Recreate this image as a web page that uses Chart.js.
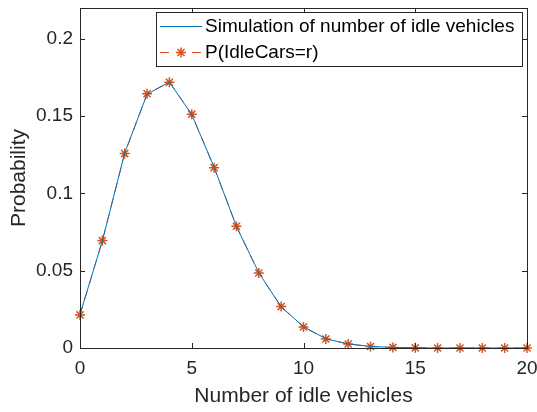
<!DOCTYPE html>
<html><head><meta charset="utf-8">
<script src="https://cdn.jsdelivr.net/npm/chart.js@4/dist/chart.umd.min.js"></script>
<style>html,body{margin:0;padding:0;background:#fff}#wrap{width:537px;height:412px}</style>
</head><body><div id="wrap"><canvas id="c" width="537" height="412"></canvas></div>
<script>
const xValues = [0,1,2,3,4,5,6,7,8,9,10,11,12,13,14,15,16,17,18,19,20];
const simValues = [0.0218,0.0692,0.1262,0.1642,0.1721,0.1510,0.1170,0.0786,0.0487,0.0266,0.0138,0.0060,0.0026,0.0010,0.0004,0.0001,0,0,0,0,0];
const probValues = [0.0214,0.0695,0.1258,0.1645,0.1719,0.1513,0.1167,0.0788,0.0485,0.0268,0.0136,0.0058,0.0026,0.0010,0.0004,0.0001,0.00003,0.00001,0,0,0];
const yTicks = [0,0.05,0.1,0.15,0.2];
const xTicks = [0,5,10,15,20];
const legendLabels = ['Simulation of number of idle vehicles','P(IdleCars=r)'];

const AX = '#262626';
const FONT = '"Liberation Sans", Arial, sans-serif';

const boxPlugin = {
  id:'boxPlugin',
  afterDatasetsDraw(chart){
    const {ctx, chartArea:a, scales:{x,y}} = chart;
    ctx.save();
    ctx.strokeStyle = AX; ctx.lineWidth = 1;
    ctx.beginPath();
    ctx.rect(Math.round(a.left)+0.5, Math.round(a.top)+0.5, Math.round(a.right-a.left), Math.round(a.bottom-a.top));
    ctx.stroke();
    ctx.beginPath();
    const tl = 5;
    xTicks.forEach(v=>{const px=Math.round(x.getPixelForValue(v))+0.5;
      ctx.moveTo(px,a.bottom); ctx.lineTo(px,a.bottom-tl);
      ctx.moveTo(px,a.top); ctx.lineTo(px,a.top+tl);});
    yTicks.forEach(v=>{const py=Math.round(y.getPixelForValue(v))+0.5;
      ctx.moveTo(a.left,py); ctx.lineTo(a.left+tl,py);
      ctx.moveTo(a.right,py); ctx.lineTo(a.right-tl,py);});
    ctx.stroke();
    // legend
    const lx=156.5, ly=12.5, lw=366, lh=54;
    ctx.fillStyle='#fff'; ctx.fillRect(lx,ly,lw,lh);
    ctx.strokeStyle=AX; ctx.strokeRect(lx,ly,lw,lh);
    ctx.font='19px '+FONT; ctx.fillStyle='#000'; ctx.textBaseline='middle'; ctx.textAlign='left';
    const r1=26, r2=52;
    ctx.strokeStyle='#0072BD'; ctx.lineWidth=1; ctx.setLineDash([]);
    ctx.beginPath(); ctx.moveTo(160,r1+0.5); ctx.lineTo(202,r1+0.5); ctx.stroke();
    ctx.fillText(legendLabels[0],205,r1+1);
    ctx.strokeStyle='#D95319'; ctx.setLineDash([9,7]);
    ctx.beginPath(); ctx.moveTo(160,r2+0.5); ctx.lineTo(202,r2+0.5); ctx.stroke();
    ctx.setLineDash([]);
    const cx=181, cy=r2+0.5, r=5;
    ctx.lineWidth=1.5;
    ctx.beginPath();
    ctx.moveTo(cx-r,cy); ctx.lineTo(cx+r,cy);
    ctx.moveTo(cx,cy-r); ctx.lineTo(cx,cy+r);
    const d=r*0.7071;
    ctx.moveTo(cx-d,cy-d); ctx.lineTo(cx+d,cy+d);
    ctx.moveTo(cx-d,cy+d); ctx.lineTo(cx+d,cy-d);
    ctx.stroke();
    ctx.fillText(legendLabels[1],205,r2+1);
    ctx.restore();
  }
};

new Chart(document.getElementById('c'),{
  type:'line',
  data:{datasets:[
    {label:legendLabels[0], data:xValues.map((v,i)=>({x:v,y:simValues[i]})), borderColor:'#0072BD', borderWidth:1, pointRadius:0, tension:0, fill:false},
    {label:legendLabels[1], data:xValues.map((v,i)=>({x:v,y:probValues[i]})), borderColor:'#D95319', borderWidth:1, borderDash:[9,7], pointStyle:'star', pointRadius:5, pointBorderColor:'#D95319', pointBorderWidth:1.5, pointBackgroundColor:'#D95319', tension:0, fill:false, clip:false}
  ]},
  options:{
    responsive:false, animation:false, devicePixelRatio:1,
    layout:{padding:{top:8,right:10,left:0,bottom:0}},
    plugins:{legend:{display:false},tooltip:{enabled:false}},
    scales:{
      x:{type:'linear',min:0,max:20,
        afterBuildTicks(s){s.ticks=xTicks.map(v=>({value:v}));},
        afterFit(s){s.height=64; s.paddingLeft=0; s.paddingRight=0;},
        grid:{display:false,drawTicks:false}, border:{display:false},
        ticks:{color:AX,font:{family:FONT,size:19},padding:9,maxRotation:0},
        title:{display:true,text:'Number of idle vehicles',color:AX,font:{family:FONT,size:21},padding:{top:0,bottom:3}}
      },
      y:{type:'linear',min:0,max:0.22,
        afterBuildTicks(s){s.ticks=yTicks.map(v=>({value:v}));},
        afterFit(s){s.width=80; s.paddingTop=0; s.paddingBottom=0;},
        grid:{display:false,drawTicks:false}, border:{display:false},
        ticks:{color:AX,font:{family:FONT,size:19},padding:7,callback:v=>String(v)},
        title:{display:true,text:'Probability',color:AX,font:{family:FONT,size:21},padding:{top:7,bottom:0}}
      }
    }
  },
  plugins:[boxPlugin]
});
</script></body></html>
